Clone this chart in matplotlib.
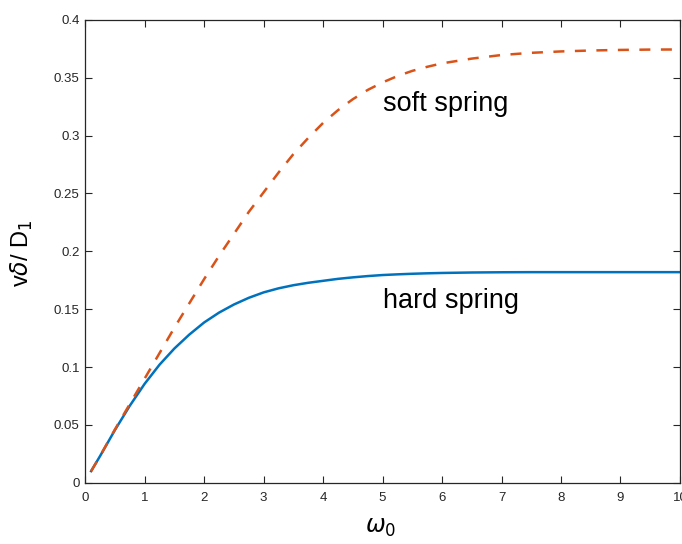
import numpy as np
import matplotlib
matplotlib.use("Agg")
import matplotlib.pyplot as plt


# ============================================================
# DATA
# ============================================================

OMEGA = [0.1, 0.25, 0.5, 0.75, 1.0, 1.25, 1.5, 1.75, 2.0, 2.25, 2.5, 2.75,
         3.0, 3.25, 3.5, 3.75, 4.0, 4.25, 4.5, 4.75, 5.0, 5.25, 5.5, 5.75,
         6.0, 6.5, 7.0, 7.5, 8.0, 8.5, 9.0, 9.5, 10.0]

HARD_SPRING = [0.0100, 0.0230, 0.0455, 0.0665, 0.0855, 0.1020, 0.1160, 0.1280,
               0.1385, 0.1470, 0.1540, 0.1598, 0.1645, 0.1680, 0.1707, 0.1728,
               0.1745, 0.1762, 0.1775, 0.1786, 0.1795, 0.1801, 0.1806, 0.1810,
               0.1813, 0.1817, 0.1819, 0.1820, 0.1820, 0.1820, 0.1820, 0.1820,
               0.1820]

SOFT_SPRING = [0.0100, 0.0230, 0.0460, 0.0680, 0.0900, 0.1120, 0.1340, 0.1550,
               0.1760, 0.1960, 0.2150, 0.2340, 0.2510, 0.2680, 0.2840, 0.2980,
               0.3110, 0.3220, 0.3315, 0.3395, 0.3460, 0.3515, 0.3560, 0.3595,
               0.3625, 0.3666, 0.3697, 0.3716, 0.3728, 0.3736, 0.3741, 0.3744,
               0.3745]

X_TICKS = list(range(0, 11))
Y_TICKS = [0, 0.05, 0.1, 0.15, 0.2, 0.25, 0.3, 0.35, 0.4]
Y_TICK_LABELS = ["0", "0.05", "0.1", "0.15", "0.2", "0.25", "0.3", "0.35", "0.4"]


# ============================================================
# STYLE
# ============================================================

BLUE = "#0072BD"
ORANGE = "#D95319"
AXIS_GRAY = "#262626"

plt.rcParams["font.family"] = ["Liberation Sans", "DejaVu Sans"]
plt.rcParams["mathtext.fontset"] = "dejavusans"


def make_figure():
    figure = plt.figure(figsize=(6.82, 5.44), dpi=100)
    axis = figure.add_axes([0.1249, 0.1127, 0.8721, 0.8506])

    # hard spring first so the dashed soft-spring curve sits on top
    axis.plot(OMEGA, HARD_SPRING, color=BLUE, linewidth=1.8,
              solid_joinstyle="round")
    axis.plot(OMEGA, SOFT_SPRING, color=ORANGE, linewidth=1.8,
              dashes=(4.4, 4.2), solid_joinstyle="round")

    axis.text(5.0, 0.3212, "soft spring", fontsize=19.5, va="baseline", ha="left")
    axis.text(5.0, 0.1511, "hard spring", fontsize=19.5, va="baseline", ha="left")

    axis.set_xlim(0, 10)
    axis.set_ylim(0, 0.4)
    axis.set_xticks(X_TICKS)
    axis.set_yticks(Y_TICKS)
    axis.set_yticklabels(Y_TICK_LABELS)

    axis.tick_params(direction="in", length=5, width=0.8, colors=AXIS_GRAY,
                     labelsize=9.5, top=True, right=True)
    axis.tick_params(axis="x", pad=7)
    axis.tick_params(axis="y", pad=4)
    for spine in axis.spines.values():
        spine.set_color(AXIS_GRAY)
        spine.set_linewidth(0.9)

    axis.set_xlabel(r"$\omega_0$", fontsize=17)
    axis.xaxis.label.set_va("baseline")
    axis.xaxis.set_label_coords(0.497, -0.1087)

    axis.set_ylabel(r"v$\delta$/ D$_1$", fontsize=17)
    axis.yaxis.label.set_va("center")
    axis.yaxis.set_label_coords(-0.106, 0.495)

    figure.savefig("out.png", dpi=100)


def main():
    make_figure()


if __name__ == "__main__":
    main()
